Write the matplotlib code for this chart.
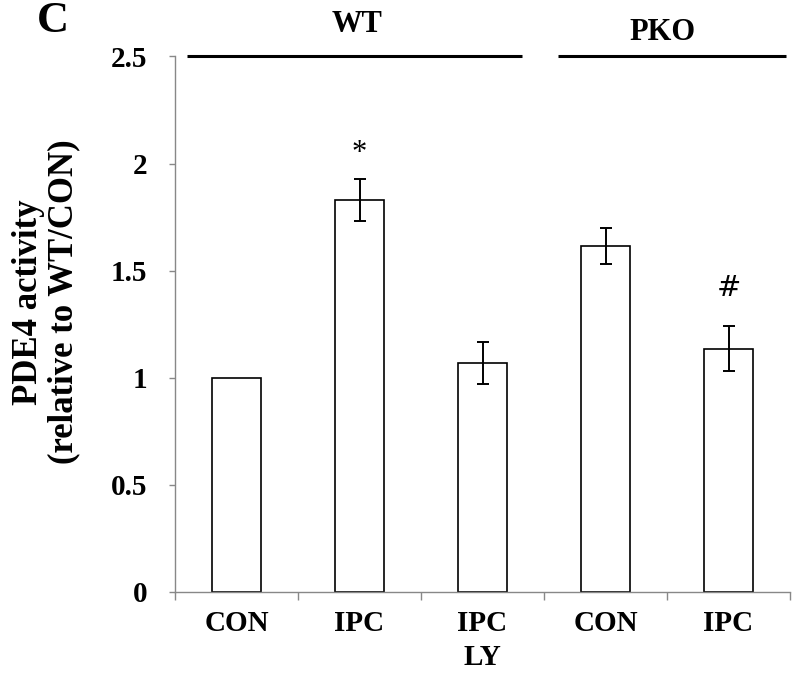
import matplotlib
matplotlib.use("Agg")
import matplotlib.pyplot as plt
import numpy as np

categories = ["CON", "IPC", "IPC\nLY", "CON", "IPC"]
values = [1.0, 1.83, 1.07, 1.615, 1.135]
errors = [0.0, 0.097, 0.099, 0.085, 0.105]
marks = ["", "*", "", "", "#"]
groups = ["WT", "PKO"]
y_ticks = [0, 0.5, 1, 1.5, 2, 2.5]
y_tick_labels = ["0", "0.5", "1", "1.5", "2", "2.5"]

plt.rcParams['font.family'] = ['Liberation Serif', 'DejaVu Serif']

fig = plt.figure(figsize=(8, 6.78), dpi=100)
ax = fig.add_axes([175/800, 86/678, 615/800, (592-56.4)/678])

x = np.arange(len(categories))
ax.bar(x, values, width=0.4, color='white', edgecolor='black', linewidth=1.2, zorder=2)
err_x = [xi for xi, e in zip(x, errors) if e > 0]
err_v = [v for v, e in zip(values, errors) if e > 0]
err_e = [e for e in errors if e > 0]
ax.errorbar(err_x, err_v, yerr=err_e, fmt='none', ecolor='black', elinewidth=1.4,
            capsize=4, capthick=1.4, zorder=3)

for xi, v, e, m in zip(x, values, errors, marks):
    if m == "*":
        ax.text(xi, v + e + 0.12, m, ha='center', va='center', fontsize=22)
    elif m == "#":
        ax.text(xi, v + e + 0.18, m, ha='center', va='center', fontsize=21,
                family=['DejaVu Sans'])

ax.set_xlim(-0.5, len(categories) - 0.5)
ax.set_ylim(0, 2.5)
ax.set_yticks(y_ticks)
ax.set_yticklabels(y_tick_labels, fontsize=21, fontweight='bold')
ax.set_xticks(x)
ax.set_xticklabels(categories, fontsize=21, fontweight='bold', linespacing=1.35)
ax.set_xticks(np.arange(-0.5, len(categories), 1.0), minor=True)
ax.tick_params(axis='x', which='major', length=0, pad=13)
ax.tick_params(axis='x', which='minor', length=6, color='#888888', width=1)
ax.tick_params(axis='y', length=4, color='#888888', width=1, pad=16)

for s in ['top', 'right']:
    ax.spines[s].set_visible(False)
for s in ['left', 'bottom']:
    ax.spines[s].set_color('#888888')
    ax.spines[s].set_linewidth(1)

fig.text(46/800, 1 - 302/678, "PDE4 activity\n(relative to WT/CON)", rotation=90,
         ha='center', va='center', fontsize=25, fontweight='bold',
         linespacing=1.08, multialignment='center')

# group lines and labels
ax.plot([-0.40, 2.32], [2.5, 2.5], color='black', linewidth=2.2, clip_on=False,
        solid_capstyle='butt')
ax.plot([2.61, 4.47], [2.5, 2.5], color='black', linewidth=2.2, clip_on=False,
        solid_capstyle='butt')
ax.text(0.98, 2.65, groups[0], ha='center', va='center', fontsize=22, fontweight='bold')
ax.text(3.46, 2.61, groups[1], ha='center', va='center', fontsize=22, fontweight='bold')

fig.text(53/800, 1 - 21/678, "C", ha='center', va='center', fontsize=32, fontweight='bold')

fig.savefig("out.png", dpi=100)
